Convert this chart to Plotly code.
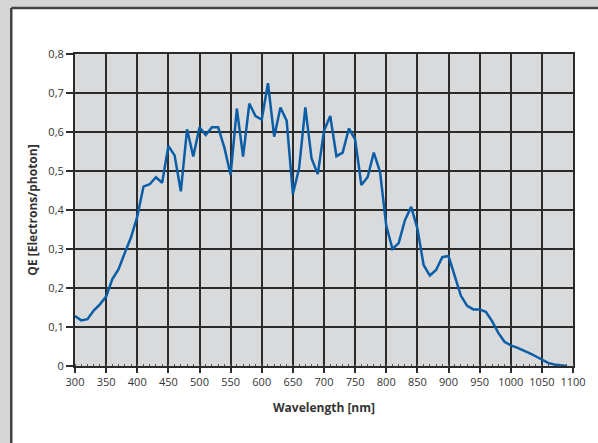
import plotly.graph_objects as go

wavelength = [300, 310, 320, 330, 340, 350, 360, 370, 380, 390,
              400, 410, 420, 430, 440, 450, 460, 470, 480, 490,
              500, 510, 520, 530, 540, 550, 560, 570, 580, 590,
              600, 610, 620, 630, 640, 650, 660, 670, 680, 690,
              700, 710, 720, 730, 740, 750, 760, 770, 780, 790,
              800, 810, 820, 830, 840, 850, 860, 870, 880, 890,
              900, 910, 920, 930, 940, 950, 960, 970, 980, 990,
              1000, 1010, 1020, 1030, 1040, 1050, 1060, 1070, 1080, 1090]
qe = [0.128, 0.117, 0.120, 0.142, 0.158, 0.178, 0.223, 0.248, 0.290, 0.330,
      0.383, 0.460, 0.466, 0.484, 0.470, 0.564, 0.540, 0.448, 0.607, 0.537,
      0.612, 0.592, 0.612, 0.612, 0.560, 0.490, 0.660, 0.537, 0.673, 0.641,
      0.632, 0.725, 0.588, 0.663, 0.629, 0.441, 0.507, 0.663, 0.532, 0.492,
      0.603, 0.641, 0.538, 0.547, 0.609, 0.581, 0.464, 0.484, 0.547, 0.498,
      0.360, 0.300, 0.315, 0.374, 0.408, 0.353, 0.259, 0.232, 0.246, 0.279,
      0.282, 0.229, 0.180, 0.154, 0.145, 0.145, 0.139, 0.115, 0.085, 0.062,
      0.053, 0.047, 0.041, 0.033, 0.025, 0.017, 0.008, 0.004, 0.002, 0.000]

x_ticks = list(range(300, 1101, 50))
y_tickvals = [0, 0.1, 0.2, 0.3, 0.4, 0.5, 0.6, 0.7, 0.8]
y_ticktext = ["0", "0,1", "0,2", "0,3", "0,4", "0,5", "0,6", "0,7", "0,8"]

W, H = 598, 443
ml, mr, mt, mb = 75, 23, 54, 77
pw, ph = W - ml - mr, H - mt - mb

def px2paper_x(px):
    return (px - ml) / pw

def py2paper_y(py):
    return (H - mb - py) / ph

OUTER = "#d6d6d6"
BORDER = "#444444"

fig = go.Figure()
fig.add_trace(go.Scatter(
    x=wavelength, y=qe, mode="lines",
    line=dict(color="#0b5ea6", width=2.5),
    showlegend=False, hoverinfo="skip",
))

FONT = "'Open Sans', sans-serif"
axis_font = dict(family=FONT, size=11, color="#333333")
title_font = dict(family=FONT, size=12, color="#333333")

left_x, top_y = px2paper_x(11), py2paper_y(8)
far_l, far_r = px2paper_x(-20), px2paper_x(W + 20)
far_t, far_b = py2paper_y(-20), py2paper_y(H + 20)

fig.update_layout(
    width=W, height=H,
    margin=dict(l=ml, r=mr, t=mt, b=mb),
    paper_bgcolor="white",
    plot_bgcolor="#d9dadc",
    font=axis_font,
    shapes=[
        dict(type="rect", xref="paper", yref="paper",
             x0=far_l, x1=left_x, y0=far_b, y1=far_t,
             fillcolor=OUTER, line=dict(width=0), layer="below"),
        dict(type="rect", xref="paper", yref="paper",
             x0=far_l, x1=far_r, y0=top_y, y1=far_t,
             fillcolor=OUTER, line=dict(width=0), layer="below"),
        dict(type="line", xref="paper", yref="paper",
             x0=left_x, x1=left_x, y0=far_b, y1=top_y,
             line=dict(color=BORDER, width=2.5), layer="below"),
        dict(type="line", xref="paper", yref="paper",
             x0=left_x, x1=far_r, y0=top_y, y1=top_y,
             line=dict(color=BORDER, width=2.5), layer="below"),
        dict(type="rect", xref="paper", yref="paper",
             x0=0, x1=1, y0=0, y1=1,
             fillcolor="#d9dadc", line=dict(width=0), layer="below"),
    ],
    xaxis=dict(
        range=[300, 1100], tickvals=x_ticks,
        showgrid=True, gridcolor="#2b2b2b", gridwidth=2,
        showline=True, linecolor="#2b2b2b", linewidth=2, mirror=True,
        ticks="outside", ticklen=5, tickcolor="#2b2b2b", tickwidth=1.5,
        minor=dict(ticks="inside", dtick=10, tick0=300, ticklen=2,
                   tickcolor="#555555", tickwidth=1, showgrid=False),
        tickfont=axis_font,
        title=dict(text="<b>Wavelength [nm]</b>", font=title_font, standoff=15),
        zeroline=False,
    ),
    yaxis=dict(
        range=[0, 0.8], tickvals=y_tickvals, ticktext=y_ticktext,
        showgrid=True, gridcolor="#2b2b2b", gridwidth=2,
        showline=True, linecolor="#2b2b2b", linewidth=2, mirror=True,
        ticks="outside", ticklen=7, tickcolor="#2b2b2b", tickwidth=1.5,
        tickfont=axis_font,
        title=dict(text="<b>QE [Electrons/photon]</b>", font=title_font, standoff=8),
        zeroline=False,
    ),
)

post = (
    "document.documentElement.style.overflow='hidden';"
    "document.documentElement.style.margin='0';"
    "document.body.style.margin='0';"
    "document.body.style.overflow='hidden';"
    "document.body.style.background='white';"
)
fig.write_html("out.html", config={"displayModeBar": False}, post_script=post)
